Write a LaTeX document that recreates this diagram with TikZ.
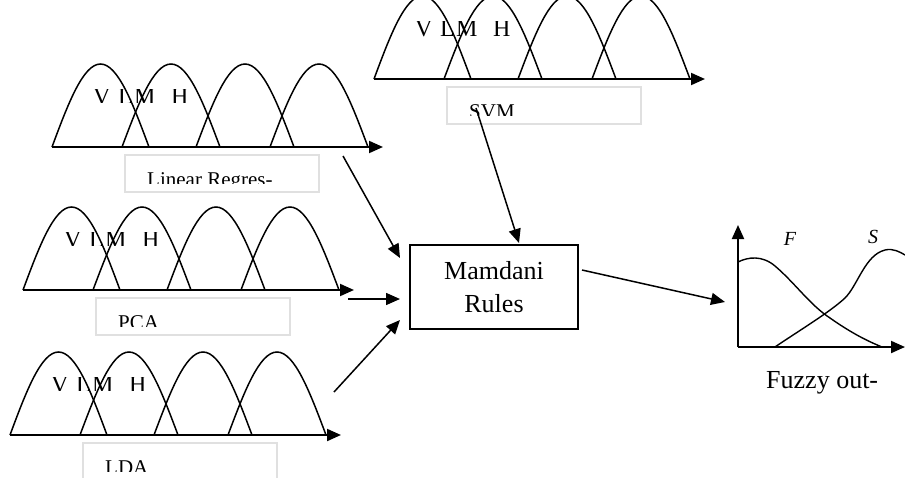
\documentclass[tikz,border=0pt]{standalone}
\usepackage{fontspec}
\setmainfont{Liberation Serif}
\usetikzlibrary{arrows.meta}
\tikzset{
  x=1pt, y=-1pt,
  hump/.style={line width=1.5pt},
  axisline/.style={line width=2pt,-{Triangle[length=14pt,width=12pt]}},
  conn/.style={line width=1.5pt,-{Triangle[length=14pt,width=12pt]}},
  lblbox/.style={draw=black!12,line width=1.2pt},
  lbltext/.style={anchor=base west,inner sep=0pt,font=\fontsize{21}{21}\selectfont},
  setletter/.style={anchor=base west,inner sep=0pt,font=\fontsize{24}{24}\selectfont},
}
\newcommand\fzset[5]{%
  \begin{scope}[shift={(#1,#2)}]
    \draw[lblbox] (73,8) rectangle (267,45);
    \begin{scope}
      \clip (73,8) rectangle (267,36);
      \node[lbltext] (#3lbl) at (95,39) {#4};
    \end{scope}
    \foreach \a/\b in {0/97,70/168,144/242,218/316}{
      \draw[hump] (\a,0) sin ({(\a+\b)/2},-83) cos (\b,0);}
    \draw[axisline] (0,0) coordinate (#3s) -- (331,0) coordinate (#3e);
    \begin{scope}
      \clip (30,-58) rectangle (160,#5);
      \node[setletter] (#3v) at (41,-43) {V};
      \node[setletter] (#3l) at (66,-43) {L};
      \node[setletter] (#3m) at (82,-43) {M};
      \node[setletter] (#3h) at (119,-43) {H};
    \end{scope}
  \end{scope}}
\begin{document}
\begin{tikzpicture}
  \clip (0,0) rectangle (905,477);
  \useasboundingbox (0,0) rectangle (905,477);

  \fzset{52}{147}{lr}{Linear Regres-}{-45}
  \fzset{374}{79}{svm}{SVM}{-38}
  \fzset{23}{290}{pca}{PCA}{-45}
  \fzset{10}{435}{lda}{LDA}{-45}

  \node[draw,line width=2pt,minimum width=168pt,minimum height=84pt,
        align=center,inner sep=0pt,font=\fontsize{26}{33}\selectfont]
        (mam) at (494,287) {Mamdani\\Rules};

  \coordinate (lrfrom) at (343,156);
  \coordinate (lrto) at (400,258);
  \coordinate (pcafrom) at (348,299);
  \coordinate (pcato) at (400,299);
  \coordinate (ldafrom) at (334,392);
  \coordinate (ldato) at (400,320);
  \coordinate (svmfrom) at (476,108);
  \coordinate (svmto) at (519,243);
  \coordinate (mamfrom) at (582,270);
  \coordinate (fzto) at (725,302);

  \draw[conn] (lrfrom) -- (lrto);
  \draw[conn] (pcafrom) -- (pcato);
  \draw[conn] (ldafrom) -- (ldato);
  \draw[conn] (svmfrom) -- (svmto);
  \draw[conn] (mamfrom) -- (fzto);

  % fuzzy output
  \coordinate (origin) at (738,347);
  \coordinate (ytip) at (738,225);
  \coordinate (xtip) at (905,347);
  \draw[axisline] (origin) -- (ytip);
  \draw[axisline] (origin) -- (xtip);
  \draw[line width=1.4pt] (738,262) .. controls (748,257) and (762,255) .. (775,266)
     .. controls (795,283) and (810,305) .. (830,318)
     .. controls (850,332) and (865,340) .. (882,347);
  \draw[line width=1.4pt] (775,347) .. controls (800,330) and (830,312) .. (845,298)
     .. controls (858,285) and (865,255) .. (885,250)
     .. controls (893,248) and (900,252) .. (905,255);
  \node[font=\fontsize{20}{20}\selectfont\itshape,inner sep=0pt] (flbl) at (790,239) {F};
  \node[font=\fontsize{20}{20}\selectfont\itshape,inner sep=0pt] (slbl) at (873,237) {S};
  \node[anchor=base west,inner sep=0pt,font=\fontsize{26}{26}\selectfont] (fzlbl) at (766,388) {Fuzzy out-};
\end{tikzpicture}
\end{document}
